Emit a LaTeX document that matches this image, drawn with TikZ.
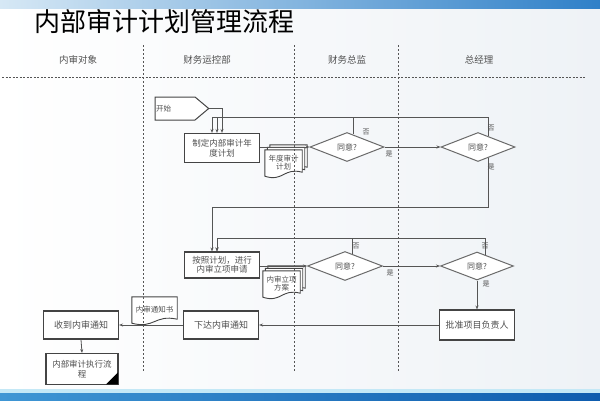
\documentclass[tikz,border=0pt]{standalone}
\usepackage{fontspec}
\setmainfont{Noto Sans CJK SC}
\usetikzlibrary{calc,shapes.geometric,shapes.symbols,arrows.meta}
\pgfdeclarelayer{back}\pgfdeclarelayer{docs}\pgfsetlayers{back,docs,main}
\definecolor{ln}{HTML}{555555}
\definecolor{boxc}{HTML}{444444}
\definecolor{diac}{HTML}{6A6A6A}
\definecolor{txt}{HTML}{505050}
\definecolor{lanec}{HTML}{555555}
\definecolor{bgc}{HTML}{EEF2F6}
\definecolor{topa}{HTML}{D6E8F5}
\definecolor{topb}{HTML}{2F80C8}
\definecolor{cyl}{HTML}{C4E8F6}
\definecolor{bota}{HTML}{3F96D4}
\definecolor{botb}{HTML}{0E5CAE}
\newcommand\docdraw[2]{%
  \draw[draw=boxc,line width=0.9pt,fill=white] ($(#1.north west)+(#2)$) -- ($(#1.north east)+(#2)$) -- ($(#1.south east)+(#2)+(0,-4)$) .. controls ($(#1.south)+(#2)+(0,-9)$) and ($(#1.south)+(#2)+(0,6)$) .. ($(#1.south west)+(#2)$) -- cycle;}
\begin{document}
\begin{tikzpicture}[x=1pt,y=-1pt,
  box/.style={draw=boxc,line width=1.1pt,fill=white,minimum width=75pt,minimum height=29pt,inner sep=1pt,align=center,font=\fontsize{8.5}{9.5}\selectfont,text=txt},
  dia/.style={draw=diac,line width=1pt,fill=white,diamond,aspect=2.5,minimum width=74pt,minimum height=29pt,inner sep=0pt,font=\fontsize{8}{8}\selectfont,text=txt},
  arr/.style={draw=ln,line width=0.8pt,-{Stealth[length=4pt,width=3pt]}},
  lab/.style={font=\fontsize{7}{7}\selectfont,text=txt,inner sep=0pt},
  lane/.style={draw=lanec,line width=1pt,dash pattern=on 2pt off 2pt},
  lanelab/.style={font=\fontsize{9.5}{10}\selectfont,text=txt,inner sep=0pt},
  docn/.style={inner sep=0pt,align=center,font=\fontsize{7.5}{8}\selectfont,text=txt}
]
\useasboundingbox (0,0) rectangle (600,400);
\begin{pgfonlayer}{back}
\fill[bgc] (0,0) rectangle (600,400);
\shade[left color=white,right color=bgc] (0,8) rectangle (600,389);
\shade[left color=topa,right color=topb] (0,0) rectangle (600,8);
\fill[cyl] (0,389) rectangle (600,393);
\shade[left color=bota,right color=botb] (0,393) rectangle (600,400);
\end{pgfonlayer}

% title
\node[anchor=west,inner sep=0pt,font=\fontsize{26}{26}\selectfont,text=black] (title) at (34,22) {内部审计计划管理流程};

% lanes
\draw[lane] (143,45) -- (143,372);
\draw[lane] (294,45) -- (294,372);
\draw[lane] (398,45) -- (398,372);
\draw[draw=lanec,line width=0.6pt,dash pattern=on 2pt off 1.5pt] (2,77) -- (586,77);
\node[lanelab] (l1) at (78,60) {内审对象};
\node[lanelab] (l2) at (207,60) {财务运控部};
\node[lanelab] (l3) at (347,60) {财务总监};
\node[lanelab] (l4) at (479,60) {总经理};

% nodes
\node[signal,signal to=east,signal pointer angle=80,draw=boxc,line width=1pt,fill=white,minimum width=46pt,minimum height=23pt,inner sep=1pt,font=\fontsize{7.5}{8}\selectfont,text=txt,text width=38pt] (start) at (175,108.5) {开始};
\node[box] (box1) at (222,148) {制定内部审计年\\度计划};
\node[dia] (d1) at (347,147) {同意?};
\node[dia] (d2) at (478,147) {同意?};
\node[box,minimum height=26pt] (box2) at (222,265) {按照计划，进行\\内审立项申请};
\node[dia,minimum width=75pt] (d3) at (345,266) {同意?};
\node[dia,minimum width=73pt,minimum height=28pt] (d4) at (477,266) {同意?};
\node[box,minimum height=30pt,font=\fontsize{9}{10}\selectfont] (appr) at (477,325) {批准项目负责人};
\node[box,minimum height=28pt,font=\fontsize{9}{10}\selectfont] (issue) at (221,325) {下达内审通知};
\node[box,minimum height=28pt,font=\fontsize{9}{10}\selectfont] (recv) at (81,325) {收到内审通知};
\node[box,minimum width=72pt,minimum height=31pt] (exec) at (82,369) {内部审计执行流\\程};
\fill[black] ($(exec.south east)+(-0.6,-0.6)$) -- ++(-12,0) -- ++(12,-12) -- cycle;

% documents
\node[docn,minimum width=37pt,minimum height=26pt] (docA) at (283.5,163) {年度审计\\计划};
\node[docn,minimum width=37pt,minimum height=26pt] (docB) at (281.5,284) {内审立项\\方案};
\node[docn,minimum width=45pt,minimum height=26pt] (docC) at (154.5,310) {内审通知书};
\begin{pgfonlayer}{docs}
\docdraw{docA}{5,-5}
\docdraw{docA}{2.5,-2.5}
\docdraw{docA}{0,0}
\docdraw{docB}{5,-5}
\docdraw{docB}{2.5,-2.5}
\docdraw{docB}{0,0}
\docdraw{docC}{0,0}
\end{pgfonlayer}

% helper coordinates
\coordinate (y1) at (0,117);
\coordinate (y2) at (0,207);
\coordinate (y3) at (0,238);
\coordinate (d1no) at ($(d1.north)!0.16!(d1.east)$);
\coordinate (d2no) at ($(d2.north)!0.27!(d2.east)$);
\coordinate (d2ye) at ($(d2.south)!0.27!(d2.east)$);
\coordinate (d3no) at ($(d3.north)!0.19!(d3.east)$);
\coordinate (d4no) at ($(d4.north)!0.22!(d4.east)$);
\coordinate (b1a) at ($(box1.north)+(-10,0)$);
\coordinate (b1b) at ($(box1.north)+(-5,0)$);
\coordinate (b2a) at ($(box2.north)+(-10,0)$);
\coordinate (b2b) at ($(box2.north)+(-5,0)$);

% connectors
\draw[arr] (start.east) -| (box1.north);
\draw[arr] (d1no) -- (d1no |- y1) -| (b1b);
\draw[arr] (d2no) -- (d2no |- y1) -| (b1a);
\draw[arr] (box1.east |- d1.west) -- (d1.west);
\draw[arr] (d1.east) -- (d2.west);
\draw[arr] (d2ye) -- (d2ye |- y2) -| (b2a);
\draw[arr] (d3no) -- (d3no |- y3) -| (b2b);
\draw[arr] (d4no) -- (d4no |- y3) -| (b2b);
\draw[arr] (box2.east |- d3.west) -- (d3.west);
\draw[arr] (d3.east) -- (d4.west);
\draw[arr] (d4.south) -- (appr.north);
\draw[arr] (appr.west) -- (issue.east);
\draw[arr] (issue.west) -- (recv.east);
\draw[arr] (recv.south) -- (exec.north);

% yes / no labels
\node[lab] (n1) at (366,132) {否};
\node[lab] (s1) at (389,154) {是};
\node[lab] (n2) at (491,128) {否};
\node[lab] (s2) at (491,167) {是};
\node[lab] (n3) at (356,246) {否};
\node[lab] (s3) at (390,273) {是};
\node[lab] (n4) at (485,246) {否};
\node[lab] (s4) at (486,284) {是};
\end{tikzpicture}
\end{document}
